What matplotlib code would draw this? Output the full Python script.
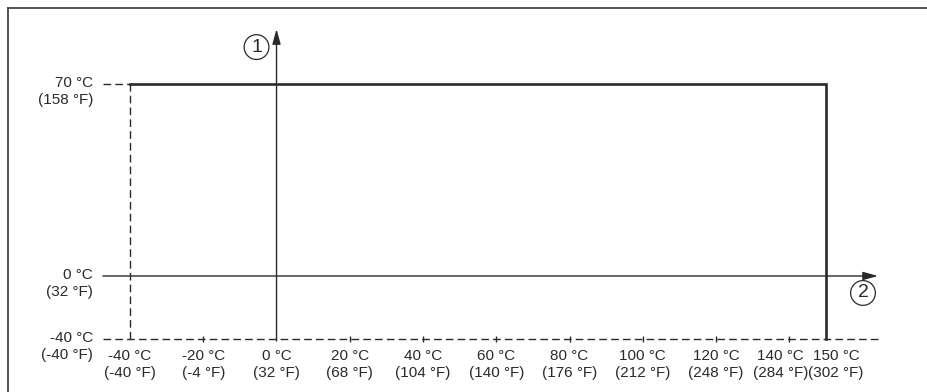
import numpy as np
import matplotlib.pyplot as plt
from matplotlib.scale import FuncScale

plt.rcParams['font.family'] = ['Liberation Sans', 'DejaVu Sans']

# operating range (process temperature vs ambient temperature), in °C
proc_c = [-40, 150]
amb_c = [-40, 70]

x_ticks_c = [-40, -20, 0, 20, 40, 60, 80, 100, 120, 140, 150]
x_ticks_f = [-40, -4, 32, 68, 104, 140, 176, 212, 248, 284, 302]
y_ticks_c = [70, 0, -40]
y_ticks_f = [158, 32, -40]

ink = '#2a2a2a'


# schematic vertical axis: the part below zero is squeezed
def fwd(y):
    y = np.asarray(y, dtype=float)
    return np.where(y >= 0, y * 192 / 70, y * 63 / 40)


def inv(v):
    v = np.asarray(v, dtype=float)
    return np.where(v >= 0, v * 70 / 192, v * 40 / 63)


fig = plt.figure(figsize=(9.28, 3.92), dpi=100)
ax = fig.add_axes([0, 0, 1, 1])
ax.set_yscale(FuncScale(ax, (fwd, inv)))
ax.set_xlim(-75.49, 177.85)
ax.set_ylim(-73.65, 100.6)
ax.axis('off')

x0 = -47.4    # left start of the axis lines
x1 = 164.2    # arrow tip on the x axis
y_top = 90.0  # arrow tip on the y axis

# dashed guides
ax.plot([x0, x1], [amb_c[0], amb_c[0]], color=ink, lw=1, dashes=(5.5, 3))
ax.plot([proc_c[0], proc_c[0]], [amb_c[0], amb_c[1]], color=ink, lw=1, dashes=(5.5, 3))
ax.plot([x0, proc_c[0]], [amb_c[1], amb_c[1]], color=ink, lw=1, dashes=(5.5, 3))

# small tick marks on the bottom dashed line
inner = [t for t in x_ticks_c if t not in (-40, 0, 150)]
ax.plot(inner, [amb_c[0]] * len(inner), ls='none', marker='|', ms=5, mew=1, color=ink)

# axes with arrows
arrow = dict(arrowstyle='-|>,head_length=0.9,head_width=0.25', color=ink, lw=1,
             shrinkA=0, shrinkB=0, mutation_scale=10)
ax.annotate('', xy=(x1, 0), xytext=(x0, 0), arrowprops=arrow)
ax.annotate('', xy=(0, y_top), xytext=(0, -41.3), arrowprops=arrow)

# operating limits
ax.plot([proc_c[0], proc_c[1], proc_c[1]], [amb_c[1], amb_c[1], amb_c[0]],
        color=ink, lw=1.9, solid_joinstyle='miter')

# circled axis numbers
circ = dict(boxstyle='circle,pad=0.2', fc='none', ec=ink, lw=0.9)
ax.annotate('1', xy=(0, y_top), xytext=(-20, -18), textcoords='offset pixels',
            ha='center', va='center', fontsize=14, color=ink, bbox=circ)
ax.annotate('2', xy=(x1, 0), xytext=(-15, -17), textcoords='offset pixels',
            ha='center', va='center', fontsize=14, color=ink, bbox=circ)

# tick labels; the last two are pushed apart a little, as in the original
nudge = {140: -9, 150: 10}
for c, f in zip(x_ticks_c, x_ticks_f):
    ax.annotate(f'{c} °C\n({f} °F)', xy=(c, amb_c[0]), xytext=(nudge.get(c, 0), -10),
                textcoords='offset pixels', ha='center', va='top',
                fontsize=11, color=ink, linespacing=1.25)

for c, f in zip(y_ticks_c, y_ticks_f):
    ax.annotate(f'{c} °C\n({f} °F)', xy=(x0, c), xytext=(-10, 8),
                textcoords='offset pixels', ha='right', va='top',
                fontsize=11, color=ink, linespacing=1.25)

# frame lines on top and left
fig.add_artist(plt.Line2D([8 / 928, 1], [1 - 8 / 392, 1 - 8 / 392],
                          color='#444444', lw=1.3, transform=fig.transFigure))
fig.add_artist(plt.Line2D([8 / 928, 8 / 928], [0, 1 - 8 / 392],
                          color='#444444', lw=1.3, transform=fig.transFigure))

fig.savefig('out.png', dpi=100)
